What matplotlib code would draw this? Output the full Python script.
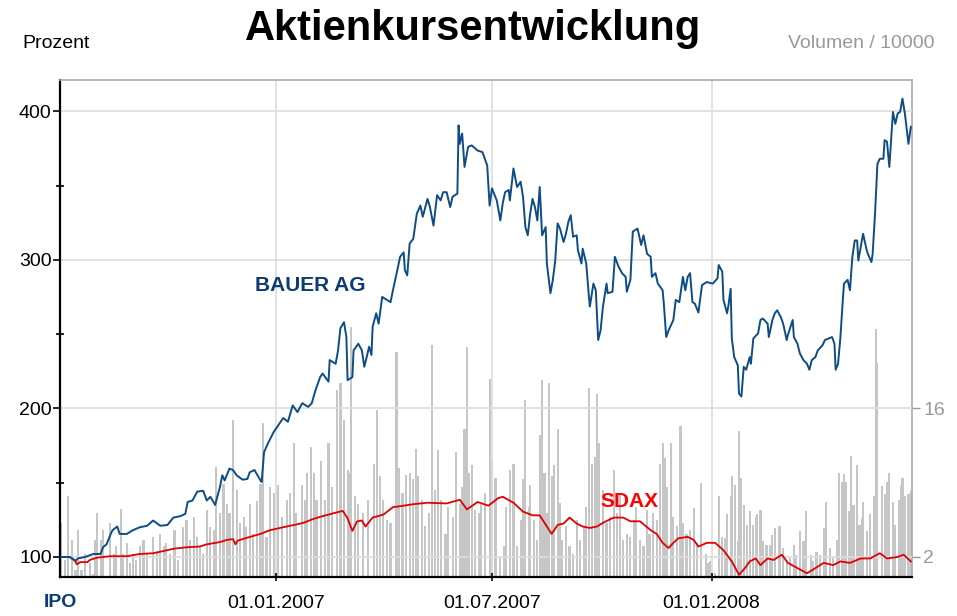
import matplotlib
matplotlib.use('Agg')
from matplotlib import pyplot as plt

plt.rcParams['font.family'] = ['Liberation Sans', 'DejaVu Sans']

# days since IPO (04.07.2006)
bauer_day = [0, 8, 13, 15, 21, 28, 34, 36, 39, 42, 44, 48, 50, 56, 61, 67, 73, 78, 84, 90,
             95, 101, 105, 107, 111, 115, 120, 123, 126, 130, 134, 136, 138, 142, 145, 148, 153, 157, 159, 163,
             168, 169, 171, 174, 179, 182, 187, 191, 195, 199, 203, 208, 211, 214, 218, 220, 225, 226, 231, 233,
             235, 238, 240, 241, 245, 246, 250, 253, 255, 257, 259, 261, 262, 265, 267, 270, 274, 277, 279, 282,
             285, 288, 289, 291, 293, 296, 299, 302, 304, 308, 310, 313, 316, 319, 321, 324, 327, 329, 333, 334,
             335, 337, 339, 342, 345, 350, 354, 358, 360, 362, 366, 369, 371, 373, 376, 377, 379, 380, 383, 386,
             388, 390, 392, 394, 396, 398, 400, 402, 404, 407, 408, 411, 413, 415, 417, 419, 422, 424, 426, 428,
             430, 433, 434, 437, 438, 441, 443, 444, 447, 449, 451, 453, 455, 458, 459, 463, 465, 468, 471, 474,
             475, 478, 480, 482, 484, 487, 489, 492, 495, 496, 499, 501, 505, 506, 508, 510, 514, 516, 519, 522,
             524, 526, 528, 530, 532, 535, 538, 542, 547, 551, 552, 555, 556, 559, 560, 562, 563, 565, 568, 569,
             571, 573, 575, 578, 579, 581, 585, 587, 589, 593, 594, 597, 599, 601, 604, 606, 609, 610, 614, 615,
             618, 620, 623, 626, 628, 630, 633, 635, 639, 641, 644, 647, 649, 650, 652, 654, 656, 657, 660, 662,
             664, 666, 668, 669, 671, 673, 676, 677, 680, 681, 683, 685, 687, 690, 691, 693, 695, 697, 698, 700,
             702, 704, 706, 708, 709, 711, 713]
bauer_val = [100, 100, 97.5, 99, 100, 102, 102, 106.5, 108.5, 114.5, 118, 120.5, 115.5, 115.5, 118, 120, 121, 124.5, 121, 121.5,
             126.5, 127.5, 129, 137, 138, 144, 144.5, 138, 140.5, 135, 147, 155, 151.5, 159.5, 158.5, 155, 152, 152.5, 157, 158.5,
             151.5, 150.5, 170.5, 176, 184, 187.5, 193.5, 191, 202, 197.5, 203.5, 201, 203.5, 212, 221, 223.5, 218, 232.5, 230, 239,
             254, 258, 248, 219, 221, 239, 243.5, 239, 228, 234.5, 241.5, 236, 255, 264, 257, 275, 273, 271.5, 279.5, 290.5,
             302, 305, 293, 289.5, 311, 314, 331, 336.5, 329, 341, 335.5, 323, 343.5, 340, 345.5, 345.5, 335.5, 342.5, 344.5, 390.5,
             378, 385, 362.5, 376, 377, 373.5, 372.5, 363.5, 336.5, 348, 340, 326.5, 338, 345.5, 347, 340, 354.5, 361.5, 349, 352.5,
             342.5, 322, 316.5, 331, 341, 335.5, 326.5, 349, 316.5, 322, 297.5, 277.5, 286.5, 299.5, 324.5, 321, 312, 317.5, 325.5, 330,
             315.5, 316.5, 306.5, 297.5, 307.5, 297.5, 277.5, 268.5, 284, 279.5, 246, 252.5, 268.5, 284, 277.5, 278.5, 302, 295.5, 291, 288.5,
             278.5, 286.5, 319, 320, 321, 310, 316.5, 304, 302, 288.5, 291, 284, 279.5, 270.5, 248, 252.5, 259.5, 273, 271.5, 288.5,
             279.5, 288.5, 291, 271.5, 270.5, 264.5, 283, 285, 284, 287.5, 296.5, 292, 273, 264, 268.5, 280.5, 247, 234.5, 229, 210,
             208, 228, 226, 234.5, 230, 247, 250.5, 259.5, 260.5, 257, 248, 259.5, 264, 266, 261.5, 257, 246, 249.5, 259.5, 248,
             243.5, 237, 232.5, 230, 226, 232.5, 234.5, 239, 242.5, 246, 247, 248, 243.5, 226, 230, 248, 273, 284, 286.5, 279.5,
             302, 313, 313, 299.5, 308.5, 317.5, 306.5, 304, 298.5, 304, 331, 364.5, 368, 368, 380.5, 379.5, 362.5, 387, 399.5, 391.5,
             398.5, 399.5, 408.5, 398.5, 391.5, 378, 389.5]

sdax_day = [0, 8, 10, 13, 14, 17, 23, 25, 31, 42, 56, 67, 78, 84, 95, 106, 117, 123, 134, 140,
            145, 147, 149, 157, 168, 176, 187, 199, 204, 212, 218, 225, 232, 237, 241, 245, 249, 253, 256, 262,
            271, 279, 288, 296, 308, 324, 335, 341, 350, 359, 367, 371, 380, 388, 396, 402, 408, 412, 417, 422,
            427, 433, 438, 444, 450, 455, 464, 472, 478, 486, 495, 500, 505, 510, 514, 518, 526, 531, 535, 542,
            549, 556, 563, 569, 574, 578, 583, 587, 593, 598, 605, 610, 618, 626, 633, 640, 648, 654, 662, 671,
            679, 687, 693, 702, 707, 713]
sdax_val = [100, 100, 99, 97, 95, 96.5, 96.5, 98, 99.5, 100.5, 100.5, 102, 102.5, 103.5, 105.5, 106.5, 107, 108.5, 110, 111.5,
            112, 108.5, 111, 113, 115.5, 118, 120, 122, 123, 125.5, 127, 128.5, 130, 131, 126, 117.5, 124, 124.5, 120.5, 126.5,
            128.5, 133.5, 134.5, 135.5, 136.5, 136, 138.5, 132, 137, 134.5, 139.5, 140.5, 136.5, 130.5, 128, 128, 120.5, 115.5, 121.5, 122.5,
            126.5, 122.5, 120.5, 119.5, 120.5, 123, 126.5, 126.5, 124, 124, 118, 115.5, 109.5, 106, 109.5, 112.5, 113.5, 111.5, 107, 109.5,
            109.5, 104.5, 97, 88, 92.5, 97, 99, 94.5, 99, 98, 101.5, 96, 92.5, 89, 92.5, 96, 94.5, 97, 96, 99,
            99, 102.5, 99, 100, 101.5, 97]

# volume / 10000
vol_day = [1, 4, 7, 10, 13, 15, 18, 21, 25, 28, 29, 31, 34, 36, 42, 45, 47, 51, 53, 56,
           59, 61, 64, 67, 70, 73, 78, 81, 84, 87, 89, 92, 96, 99, 103, 106, 109, 112, 115, 117,
           120, 123, 126, 129, 131, 134, 137, 140, 142, 145, 148, 151, 154, 156, 159, 162, 165, 168, 170, 173,
           176, 179, 183, 186, 190, 193, 196, 198, 203, 205, 207, 210, 213, 215, 219, 222, 225, 228, 232, 235,
           238, 241, 242, 244, 247, 250, 254, 258, 263, 266, 268, 271, 274, 277, 282, 284, 287, 290, 293, 296,
           298, 300, 303, 306, 309, 312, 314, 317, 319, 323, 325, 329, 332, 335, 337, 339, 341, 343, 345, 348,
           351, 353, 356, 360, 362, 365, 369, 372, 374, 377, 380, 383, 386, 388, 390, 393, 394, 397, 400, 402,
           404, 406, 408, 410, 412, 414, 417, 419, 421, 424, 427, 430, 433, 436, 439, 441, 443, 446, 448, 450,
           452, 455, 458, 461, 464, 467, 469, 472, 475, 478, 481, 483, 486, 489, 492, 494, 497, 500, 503, 505,
           507, 509, 512, 514, 517, 520, 522, 525, 528, 531, 534, 537, 541, 543, 545, 549, 552, 555, 557, 559,
           562, 563, 566, 568, 569, 571, 573, 576, 578, 581, 583, 584, 587, 589, 592, 595, 597, 599, 603, 606,
           609, 612, 615, 617, 620, 623, 625, 629, 631, 634, 637, 640, 642, 645, 648, 651, 653, 655, 657, 659,
           661, 663, 665, 668, 670, 672, 673, 676, 679, 682, 684, 685, 689, 691, 693, 695, 698, 700, 703, 705,
           706, 708, 711, 713]
vol_val = [5.2, 1.7, 7.7, 3.6, 0.8, 4.5, 0.8, 2.3, 1.4, 0.4, 3.6, 6.1, 3.6, 4.5, 5.2, 2.3, 3.0, 6.5, 2.3, 3.3,
           1.4, 2.3, 1.7, 3.0, 3.6, 2.3, 3.9, 2.6, 4.2, 3.0, 3.3, 2.3, 4.5, 1.7, 4.8, 5.5, 3.6, 5.8, 3.9, 3.0,
           2.3, 6.4, 4.8, 4.5, 10.5, 6.1, 8.9, 7.0, 6.1, 14.9, 8.3, 5.2, 5.8, 4.8, 7.0, 4.2, 7.3, 8.9, 14.6, 3.9,
           8.6, 8.0, 8.8, 5.8, 7.4, 8.0, 12.7, 6.1, 8.8, 7.4, 9.9, 12.4, 9.9, 7.4, 11.0, 7.4, 12.7, 8.6, 17.7, 18.4,
           14.9, 10.2, 9.9, 23.7, 7.7, 7.0, 6.1, 7.4, 10.8, 15.8, 9.6, 7.4, 5.5, 5.2, 21.3, 10.4, 8.0, 9.7, 9.9, 9.3,
           12.2, 9.6, 7.4, 4.9, 6.1, 22.0, 8.3, 12.1, 7.4, 4.2, 6.7, 5.8, 11.9, 7.0, 8.6, 14.1, 21.8, 9.9, 10.7, 6.4,
           6.1, 7.0, 8.0, 18.8, 11.1, 9.4, 2.0, 3.0, 6.7, 10.2, 10.8, 3.0, 5.5, 9.3, 16.8, 6.7, 8.8, 5.5, 3.6, 13.5,
           18.7, 9.9, 6.1, 18.4, 9.6, 10.7, 14.1, 7.1, 3.6, 4.9, 3.0, 2.3, 5.5, 3.6, 4.9, 6.7, 17.9, 10.8, 11.4, 17.4,
           12.7, 8.3, 5.2, 5.8, 10.2, 6.1, 7.9, 3.6, 4.2, 3.9, 5.5, 6.7, 3.6, 3.0, 6.4, 4.2, 6.1, 5.5, 10.8, 12.7,
           11.3, 8.6, 12.7, 5.8, 4.9, 14.3, 5.2, 4.2, 4.5, 6.6, 3.3, 9.0, 2.3, 1.4, 1.6, 0.5, 7.7, 3.9, 3.8, 6.0,
           7.7, 9.6, 8.8, 3.5, 13.9, 9.4, 6.9, 5.0, 6.3, 5.0, 5.8, 6.0, 6.4, 3.5, 3.1, 3.1, 4.1, 4.7, 4.9, 2.8,
           1.6, 1.9, 3.1, 2.2, 4.4, 3.5, 6.3, 2.2, 1.6, 2.5, 2.2, 4.7, 7.2, 2.8, 1.9, 3.6, 9.9, 9.1, 9.8, 9.1,
           6.3, 11.5, 6.9, 10.7, 5.0, 5.7, 7.2, 4.4, 6.0, 7.7, 23.5, 20.3, 8.7, 7.9, 9.1, 9.9, 7.2, 5.0, 7.4, 8.7,
           9.4, 7.7, 7.9, 8.2]

date_ticks = [181, 362, 546]
date_labels = ['01.01.2007', '01.07.2007', '01.01.2008']

fig = plt.figure(figsize=(9.57, 6.16), dpi=100)
ax = fig.add_axes([0.0627, 0.0633, 0.8903, 0.8068])
axv = ax.twinx()
ax.set_zorder(axv.get_zorder() + 1)
ax.patch.set_visible(False)

axv.bar(vol_day, vol_val, width=1.8, color='#c6c6c6', linewidth=0, zorder=1)
axv.set_ylim(0.11, 46.94)
axv.set_yticks([2, 16])
axv.tick_params(axis='y', colors='#999999', labelsize=14, length=6, width=1, pad=2)
for s in ['top', 'left', 'bottom']:
    axv.spines[s].set_visible(False)
axv.spines['right'].set_color('#aaaaaa')
axv.spines['right'].set_linewidth(1.2)

ax.plot(sdax_day, sdax_val, color='#e00000', linewidth=1.3, zorder=3)
ax.plot(bauer_day, bauer_val, color='#0e4c86', linewidth=1.4, zorder=4)

ax.set_xlim(0, 714)
ax.set_ylim(86.5, 421)
ax.set_yticks([100, 200, 300, 400])
ax.set_yticks([150, 250, 350], minor=True)
ax.set_xticks(date_ticks)
ax.set_xticklabels(date_labels)
ax.grid(True, color='#dddddd', linewidth=1.2, zorder=0)
ax.set_axisbelow(True)

ax.tick_params(axis='y', which='major', labelsize=14, length=5, width=1.2, direction='out', pad=1)
ax.tick_params(axis='y', which='minor', length=6, width=1.2, direction='inout')
ax.tick_params(axis='x', labelsize=14, length=6, width=1.2, direction='inout', pad=10)
for s in ['left', 'bottom']:
    ax.spines[s].set_color('black')
    ax.spines[s].set_linewidth(1.6)
ax.spines['top'].set_color('#aaaaaa')
ax.spines['top'].set_linewidth(1.2)
ax.spines['right'].set_visible(False)

ax.text(0, -0.035, 'IPO', transform=ax.get_xaxis_transform(), ha='center', va='top',
        fontsize=14, fontweight='bold', color='#0d3c73')
ax.text(163, 283, 'BAUER AG', fontsize=15, fontweight='bold', color='#0d3c73', ha='left', va='center')
ax.text(453, 137, 'SDAX', fontsize=15, fontweight='bold', color='#ff0000', ha='left', va='center')

fig.text(0.494, 0.953, 'Aktienkursentwicklung', fontsize=30, fontweight='bold', ha='center', va='center')
fig.text(0.023, 0.93, 'Prozent', fontsize=14, ha='left', va='center')
fig.text(0.977, 0.93, 'Volumen / 10000', fontsize=14, ha='right', va='center', color='#999999')

fig.savefig('out.png', dpi=100)
